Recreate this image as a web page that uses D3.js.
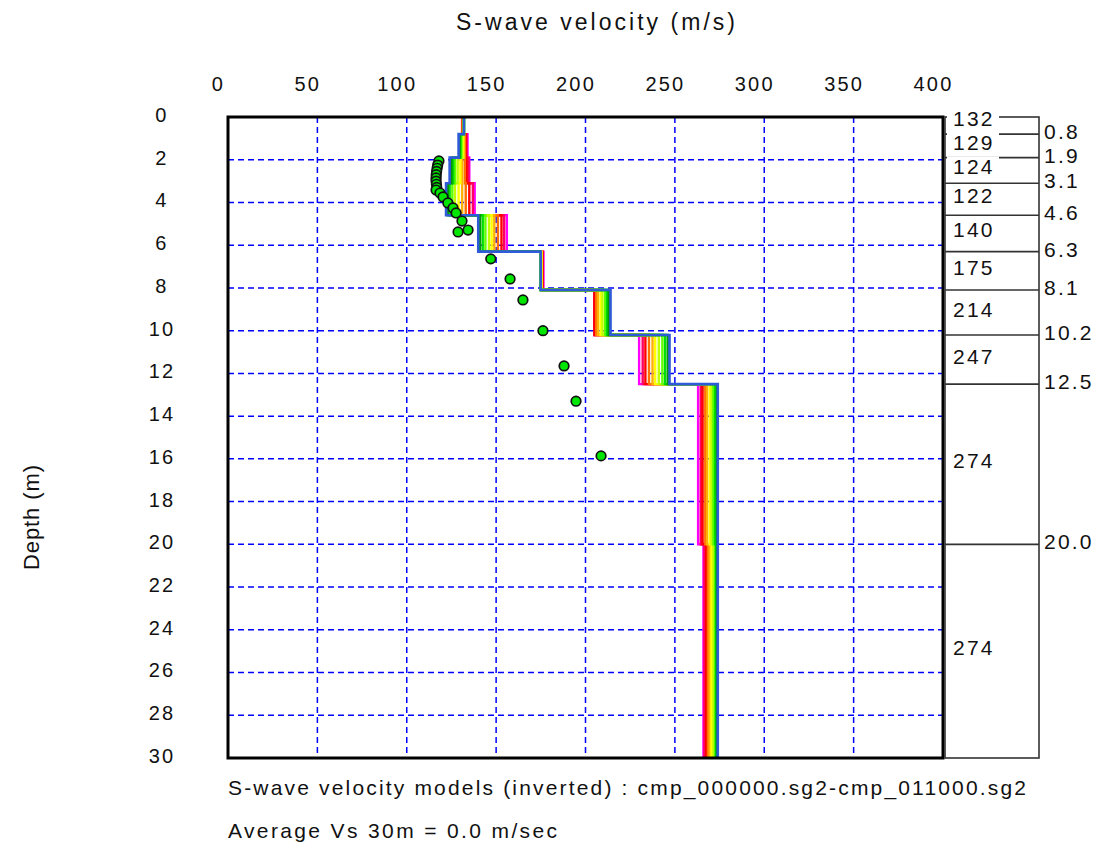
<!DOCTYPE html>
<html>
<head>
<meta charset="utf-8">
<script src="https://cdn.jsdelivr.net/npm/d3@7"></script>
<style>
  html, body { margin: 0; padding: 0; background: #fff; }
  svg { display: block; font-family: "Liberation Sans", Arial, sans-serif; }
</style>
</head>
<body>
<svg id="chart" width="1107" height="846"></svg>
<script>
// Layered S-wave velocity model: layer tops (m) and bottom of the model
const layerTops = [0, 0.8, 1.9, 3.1, 4.6, 6.3, 8.1, 10.2, 12.5, 20.0];
const modelBottom = 30;

// Final inverted velocity per layer (m/s)
const finalVs = [132, 129, 124, 122, 140, 175, 214, 247, 274, 274];

// Intermediate inversion models, from the initial guess to the last iteration
const iter01 = [131, 134, 135, 138, 156, 176.5, 205, 230, 263, 266];
const iter02 = [131, 133.5, 134.5, 137, 154.5, 176, 205, 232, 264.5, 266.5];
const iter03 = [131, 133, 133.5, 135, 153, 176, 205, 233.5, 265.5, 267.5];
const iter04 = [131.5, 132.5, 132.5, 133, 151, 175.5, 206, 235.5, 267, 268.5];
const iter05 = [131.5, 132, 131, 131, 149, 175.5, 207, 237.5, 268, 269.5];
const iter06 = [131.5, 131.5, 130, 129, 147.5, 175.5, 208.5, 239, 269.5, 270.5];
const iter07 = [132, 131, 128.5, 127, 146, 175, 209.5, 241, 270.5, 271.5];
const iter08 = [132, 130.5, 127, 125.5, 144, 175, 211, 243, 271.5, 272.5];
const iter09 = [132, 130, 126, 124, 142.5, 175, 212, 244.5, 272.5, 273];
const iter10 = [132, 129.5, 125, 123, 141, 175, 213, 246, 273.5, 273.5];
const iterColors = ["#ff00ff", "#ff0060", "#ff0000", "#ff7000", "#ffb000",
                    "#ffff00", "#c0ff00", "#60ff00", "#00dd00", "#009a00"];

// Observed dispersion points converted to velocity / depth
const dotVs     = [118, 117.3, 117, 116.7, 116.5, 116.4, 116.4, 116.6, 116.8, 116.4, 118.6, 120.3,
                   123, 125.9, 127.6, 130.9, 134.3, 128.7, 147, 157.8, 165, 176.2, 188, 194.7, 208.7];
const dotDepths = [2.06, 2.25, 2.4, 2.55, 2.7, 2.85, 3.0, 3.15, 3.3, 3.42, 3.56, 3.74,
                   4.02, 4.26, 4.49, 4.87, 5.29, 5.38, 6.64, 7.58, 8.56, 10.0, 11.65, 13.3, 15.86];

// Axis ticks
const velTicks = [0, 50, 100, 150, 200, 250, 300, 350, 400];
const depthTicks = [0, 2, 4, 6, 8, 10, 12, 14, 16, 18, 20, 22, 24, 26, 28, 30];

// Text
const titleText = "S-wave velocity (m/s)";
const yTitleText = "Depth (m)";
const captionText = "S-wave velocity models (inverted) : cmp_000000.sg2-cmp_011000.sg2";
const averageText = "Average Vs 30m = 0.0 m/sec";

const svg = d3.select("#chart");
const x = d3.scaleLinear().domain([0, 400]).range([228, 943]);
const y = d3.scaleLinear().domain([0, 30]).range([117, 758]);

const layerBottoms = layerTops.slice(1).concat([modelBottom]);

// Dashed grid
const grid = svg.append("g");
grid.selectAll("line.v").data(velTicks.slice(1, -1)).join("line")
  .attr("x1", d => x(d)).attr("x2", d => x(d))
  .attr("y1", y(0)).attr("y2", y(30))
  .attr("stroke", "#0000ff").attr("stroke-width", 1.5).attr("stroke-dasharray", "6,4");
grid.selectAll("line.h").data(depthTicks.slice(1, -1)).join("line")
  .attr("y1", d => y(d)).attr("y2", d => y(d))
  .attr("x1", x(0)).attr("x2", x(400))
  .attr("stroke", "#0000ff").attr("stroke-width", 1.5).attr("stroke-dasharray", "6,4");

// Step profile for one model
function stepPoints(vs) {
  const pts = [];
  vs.forEach((v, i) => { pts.push([v, layerTops[i]]); pts.push([v, layerBottoms[i]]); });
  return pts;
}
const stepLine = d3.line().x(p => x(p[0])).y(p => y(p[1]));

const iterations = [iter01, iter02, iter03, iter04, iter05, iter06, iter07, iter08, iter09, iter10];
const models = svg.append("g").attr("fill", "none");
models.selectAll("path.iter").data(iterations).join("path")
  .attr("d", d => stepLine(stepPoints(d)))
  .attr("stroke", (d, i) => iterColors[i])
  .attr("stroke-width", 2.4);
models.append("path")
  .attr("d", stepLine(stepPoints(finalVs)))
  .attr("stroke", "#2f5bd8").attr("stroke-width", 2.6);

// Dispersion points
svg.append("g").selectAll("circle").data(dotVs).join("circle")
  .attr("cx", d => x(d)).attr("cy", (d, i) => y(dotDepths[i]))
  .attr("r", 4.8)
  .attr("fill", "#00e600").attr("stroke", "#111").attr("stroke-width", 1.7);

// Plot frame
svg.append("rect")
  .attr("x", x(0)).attr("y", y(0))
  .attr("width", x(400) - x(0)).attr("height", y(30) - y(0))
  .attr("fill", "none").attr("stroke", "#000").attr("stroke-width", 3);

const numStyle = sel => sel.attr("font-size", 20).attr("fill", "#111")
  .attr("letter-spacing", 2.2)
  .attr("font-family", "Liberation Sans, Arial, sans-serif");

// Top axis
const xAxis = svg.append("g").attr("transform", `translate(-10,${y(0)})`)
  .call(d3.axisTop(x).tickValues(velTicks).tickSize(0).tickPadding(26));
xAxis.select(".domain").remove();
xAxis.selectAll("text").call(numStyle);

// Left axis
const yAxis = svg.append("g").attr("transform", `translate(170,-2)`)
  .call(d3.axisLeft(y).tickValues(depthTicks).tickSize(0).tickPadding(0));
yAxis.select(".domain").remove();
yAxis.selectAll("text").call(numStyle)
  .attr("text-anchor", "middle").attr("x", -8);

// Titles
svg.append("text").attr("x", 456).attr("y", 30)
  .attr("font-size", 23).attr("fill", "#111")
  .attr("textLength", 279).attr("lengthAdjust", "spacing").text(titleText);
svg.append("text").attr("transform", "translate(39,570) rotate(-90)")
  .attr("font-size", 22).attr("fill", "#111")
  .attr("textLength", 105).attr("lengthAdjust", "spacing").text(yTitleText);
svg.append("text").attr("x", 228).attr("y", 795)
  .attr("font-size", 21).attr("fill", "#111")
  .attr("textLength", 798).attr("lengthAdjust", "spacing").text(captionText);
svg.append("text").attr("x", 228).attr("y", 838)
  .attr("font-size", 21).attr("fill", "#111")
  .attr("textLength", 329).attr("lengthAdjust", "spacing").text(averageText);

// Layer table on the right
const panelL = 945, panelR = 1039;
const panel = svg.append("g");
panel.append("rect").attr("x", panelL).attr("y", y(0))
  .attr("width", panelR - panelL).attr("height", y(30) - y(0))
  .attr("fill", "none").attr("stroke", "#333").attr("stroke-width", 1.6);
panel.selectAll("line.b").data(layerTops.slice(1)).join("line")
  .attr("x1", panelL).attr("x2", panelR)
  .attr("y1", d => y(d)).attr("y2", d => y(d))
  .attr("stroke", "#333").attr("stroke-width", 1.6);

// Velocity label sits near the middle of its layer; thin layers push it up a little more
const mids = finalVs.map((v, i) => {
  const mid = (y(layerTops[i]) + y(layerBottoms[i])) / 2;
  return mid - (layerBottoms[i] - layerTops[i] < 1 ? 6.5 : 3);
});
panel.selectAll("rect.bg").data(finalVs).join("rect")
  .attr("x", panelL + 2).attr("width", 52)
  .attr("y", (d, i) => mids[i] - 11).attr("height", 22)
  .attr("fill", "#fff");
panel.selectAll("text.v").data(finalVs).join("text")
  .attr("x", panelL + 8).attr("y", (d, i) => mids[i] + 7)
  .call(numStyle).attr("font-size", 21).text(d => d);
panel.selectAll("text.d").data(layerTops.slice(1)).join("text")
  .attr("x", panelR + 5).attr("y", d => y(d) + 5)
  .call(numStyle).attr("font-size", 21).text(d => d.toFixed(1));
</script>
</body>
</html>
